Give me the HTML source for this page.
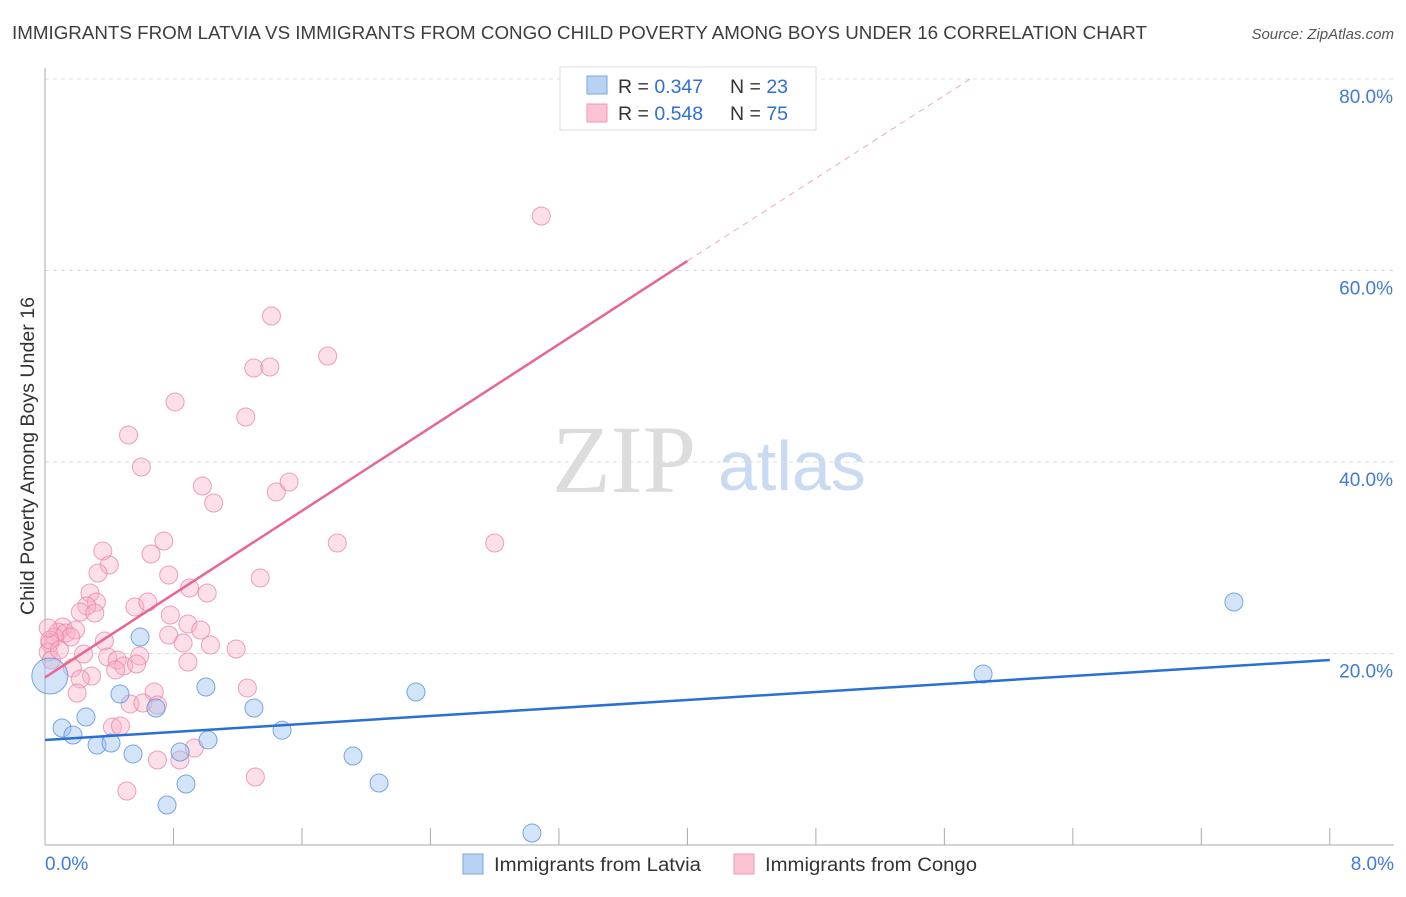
<!DOCTYPE html>
<html><head><meta charset="utf-8"><style>
body{margin:0;background:#fff;font-family:"Liberation Sans",sans-serif;}
svg text{font-family:"Liberation Sans",sans-serif;}
</style></head><body>
<svg id="chart" width="1406" height="892" viewBox="0 0 1406 892">
<text x="12" y="39" font-size="18" fill="#3d3d3d" textLength="1135" lengthAdjust="spacingAndGlyphs">IMMIGRANTS FROM LATVIA VS IMMIGRANTS FROM CONGO CHILD POVERTY AMONG BOYS UNDER 16 CORRELATION CHART</text>
<text x="1394" y="39" font-size="15" fill="#555" text-anchor="end" font-style="italic">Source: ZipAtlas.com</text>
<g>
<text x="552" y="492" font-size="96" fill="#dcdcdc" style="font-family:'Liberation Serif',serif">ZIP</text>
<text x="718" y="490" font-size="70" fill="#c9dbf2">atlas</text>
</g>
<g id="grid"></g>
<g id="axes"></g>
<g id="pts"></g>
<g id="lines"></g>
<text x="34" y="456" font-size="19.5" fill="#333" text-anchor="middle" textLength="318" lengthAdjust="spacingAndGlyphs" transform="rotate(-90 34 456)">Child Poverty Among Boys Under 16</text>
<g>
<rect x="560" y="67" width="256" height="63" fill="#fff" stroke="#ddd"/>
<rect x="587" y="76" width="20" height="18" fill="#b8d2f4" stroke="#7aa6e0"/>
<rect x="587" y="104" width="20" height="18" fill="#fbc3d4" stroke="#eb9ab5"/>
<text x="618" y="93" font-size="19.5" fill="#333">R = <tspan fill="#2f6fd6">0.347</tspan><tspan x="730">N = </tspan><tspan fill="#2f6fd6">23</tspan></text>
<text x="618" y="120" font-size="19.5" fill="#333">R = <tspan fill="#2f6fd6">0.548</tspan><tspan x="730">N = </tspan><tspan fill="#2f6fd6">75</tspan></text>
</g>
<g>
<rect x="463" y="854" width="20" height="20" fill="#b8d2f4" stroke="#7aa6e0"/>
<text x="494" y="871" font-size="19" fill="#333" textLength="207" lengthAdjust="spacingAndGlyphs">Immigrants from Latvia</text>
<rect x="734" y="854" width="20" height="20" fill="#fbc3d4" stroke="#eb9ab5"/>
<text x="765" y="871" font-size="19" fill="#333" textLength="212" lengthAdjust="spacingAndGlyphs">Immigrants from Congo</text>
</g>
</svg>
<script>
const latviaX=[0.03,0.106,0.174,0.255,0.324,0.411,0.467,0.548,0.592,0.691,0.76,0.841,0.878,1.002,1.015,1.301,1.476,1.918,2.08,2.31,3.032,5.841,7.403];
const latviaY=[17.65,12.22,11.49,13.37,10.44,10.65,15.77,9.5,21.72,14.31,4.18,9.71,6.37,16.5,10.97,14.31,11.99,9.29,6.47,15.98,1.25,17.86,25.38];
const congoX=[3.09,1.41,1.76,1.30,1.40,0.81,1.25,0.52,0.60,0.98,1.05,1.44,1.52,1.82,2.80,0.74,0.66,0.36,0.40,0.33,0.77,1.34,0.90,1.01,0.28,0.56,0.64,0.32,0.26,0.22,0.31,0.78,0.89,0.97,0.77,0.11,0.08,0.13,0.19,0.16,0.06,0.03,0.02,0.37,0.86,1.03,1.19,0.24,0.39,0.59,0.45,0.49,0.44,0.57,0.17,0.29,0.22,0.89,0.20,0.68,1.26,0.53,0.61,0.70,0.42,0.47,0.93,0.84,0.70,1.31,0.51,0.03,0.02,0.04,0.09];
const congoY=[65.69,55.25,51.07,49.82,49.92,46.27,44.70,42.82,39.48,37.49,35.72,36.87,37.91,31.54,31.54,31.75,30.39,30.70,29.24,28.41,28.20,27.89,26.84,26.32,26.32,24.86,25.38,25.38,24.96,24.33,24.23,24.02,23.08,22.45,21.93,22.77,22.25,22.14,22.45,21.72,21.72,21.10,20.16,21.31,21.10,20.89,20.47,19.95,19.63,19.74,19.32,18.69,18.28,18.90,18.49,17.65,17.34,19.11,15.87,15.98,16.40,14.73,14.83,14.62,12.32,12.43,10.13,8.88,8.88,7.10,5.64,21.41,22.66,19.32,20.37];
const latviaSizes=[18,9,9,9,9,9,9,9,9,9,9,9,9,9,9,9,9,9,9,9,9,9,9];
const yTicks=[20,40,60,80];
const yTickLabels=["20.0%","40.0%","60.0%","80.0%"];
const xTicks=[0,0.8,1.6,2.4,3.2,4.0,4.8,5.6,6.4,7.2,8.0];
const latviaLine=[10.97,19.32];
const congoLine=[17.5,61.0,80];
const congoLineX=[0,4.0,5.76];
const NS="http://www.w3.org/2000/svg";
const X=v=>45+v*160.6, Y=v=>845-v*9.575;
function mk(tag,attrs,parent){const e=document.createElementNS(NS,tag);for(const k in attrs)e.setAttribute(k,attrs[k]);parent.appendChild(e);return e;}
const grid=document.getElementById('grid'),axes=document.getElementById('axes'),pts=document.getElementById('pts'),lines=document.getElementById('lines');
yTicks.forEach((t,i)=>{
  const l=mk('line',{x1:45,x2:1394,y1:Y(t),y2:Y(t),stroke:'#ddd','stroke-dasharray':'4,4'},grid);
  
  
  const tx=mk('text',{x:1393,y:Y(t)+24,'font-size':19,fill:'#3f7bd8','text-anchor':'end'},axes);
  tx.textContent=yTickLabels[i];
  
  
});
const ya=mk('line',{x1:45,x2:45,y1:68,y2:845,stroke:'#aaa'},axes);


const xa=mk('line',{x1:45,x2:1394,y1:845,y2:845,stroke:'#aaa'},axes);


xTicks.forEach(t=>{
  const l=mk('line',{x1:X(t),x2:X(t),y1:828,y2:845,stroke:'#aaa'},axes);
  
  
});
const x0=mk('text',{x:45,y:870,'font-size':19,fill:'#3f7bd8'},axes);x0.textContent="0.0%";


const x1=mk('text',{x:1394,y:870,'font-size':19,fill:'#3f7bd8','text-anchor':'end'},axes);x1.textContent="8.0%";


congoX.forEach((x,i)=>{
  const c=mk('circle',{cx:X(x),cy:Y(congoY[i]),r:9,fill:'rgba(248,175,198,0.4)',stroke:'rgba(232,130,165,0.75)','stroke-width':1},pts);
  
  
});
latviaX.forEach((x,i)=>{
  const c=mk('circle',{cx:X(x),cy:Y(latviaY[i]),r:latviaSizes[i],fill:'rgba(160,195,240,0.45)',stroke:'rgba(90,145,220,0.8)','stroke-width':1},pts);
  
  
});
const bl=mk('line',{x1:X(0),y1:Y(latviaLine[0]),x2:X(8),y2:Y(latviaLine[1]),stroke:'#2a6fd6','stroke-width':2.5},lines);


const pl=mk('line',{x1:X(congoLineX[0]),y1:Y(congoLine[0]),x2:X(congoLineX[1]),y2:Y(congoLine[1]),stroke:'#e86690','stroke-width':2.5},lines);


const pd=mk('line',{x1:X(congoLineX[1]),y1:Y(congoLine[1]),x2:X(congoLineX[2]),y2:Y(congoLine[2]),stroke:'#eeaac0','stroke-width':1,'stroke-dasharray':'6,5'},lines);


</script>
</body></html>
